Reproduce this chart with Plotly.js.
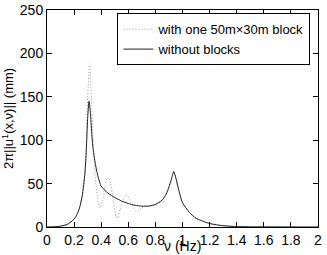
<!DOCTYPE html>
<html><head><meta charset="utf-8">
<script src="https://cdn.plot.ly/plotly-3.0.1.min.js"></script>
<style>html,body{margin:0;padding:0;background:#fff}</style>
</head><body><div id="c" style="width:327px;height:255px"></div>
<script>
const freqSolid = [0, 0.05, 0.1, 0.15, 0.2, 0.22, 0.24, 0.26, 0.28, 0.29, 0.30, 0.31, 0.32, 0.33, 0.34, 0.36, 0.38, 0.4, 0.45, 0.5, 0.55, 0.6, 0.65, 0.7, 0.75, 0.8, 0.85, 0.88, 0.9, 0.92, 0.935, 0.95, 0.97, 1.0, 1.05, 1.1, 1.2, 1.3, 1.4, 1.5, 2.0];
const ampSolid = [0, 0.3, 1, 3, 9, 14, 22, 36, 62, 88, 125, 145, 132, 108, 90, 70, 56, 47, 39, 34, 30, 27, 25, 24, 24, 26, 31, 38, 46, 56, 64, 57, 44, 28, 17, 10, 4, 1.5, 0.5, 0.2, 0];
const freqBlock = [0, 0.05, 0.1, 0.15, 0.2, 0.22, 0.24, 0.26, 0.28, 0.29, 0.30, 0.315, 0.325, 0.34, 0.36, 0.38, 0.39, 0.41, 0.43, 0.45, 0.47, 0.49, 0.51, 0.52, 0.54, 0.57, 0.59, 0.62, 0.65, 0.67, 0.7, 0.73, 0.76, 0.8, 0.85, 0.88, 0.9, 0.92, 0.935, 0.95, 0.97, 1.0, 1.05, 1.1, 1.2, 1.3, 1.4, 1.5, 2.0];
const ampBlock = [0, 0.3, 1, 3, 9, 14, 22, 36, 62, 95, 150, 188, 160, 100, 50, 28, 22, 30, 48, 58, 50, 30, 12, 10, 20, 35, 37, 28, 19, 18, 22, 25, 25, 26, 31, 38, 46, 56, 64, 57, 44, 28, 17, 10, 4, 1.5, 0.5, 0.2, 0];
const names = ["with one 50m\u00d730m block", "without blocks"];
const xTicks = [0, 0.2, 0.4, 0.6, 0.8, 1, 1.2, 1.4, 1.6, 1.8, 2];
const xTickText = ['0', '0.2', '0.4', '0.6', '0.8', '1', '1.2', '1.4', '1.6', '1.8', '2'];
const xTitle = '\u03bd (Hz)';
const yTitle = '2\u03c0||u<sup>1</sup>(x,\u03bd)|| (mm)';

const traces = [
  {x: freqBlock, y: ampBlock, name: names[0], mode: 'lines', line: {color: '#9a9a9a', width: 1, dash: '1px,2px', shape: 'spline', smoothing: 0.6}},
  {x: freqSolid, y: ampSolid, name: names[1], mode: 'lines', line: {color: '#222', width: 1, shape: 'spline', smoothing: 0.6}}
];
const ax = {showline: true, linecolor: '#000', linewidth: 1, mirror: 'ticks', ticks: 'inside', ticklen: 5, tickcolor: '#000', showgrid: false, zeroline: false, tickfont: {size: 14}};
const layout = {
  width: 327, height: 255,
  margin: {l: 47, r: 9, t: 10, b: 28},
  font: {family: 'Liberation Sans, Arial, sans-serif', size: 13, color: '#000'},
  paper_bgcolor: '#fff', plot_bgcolor: '#fff',
  showlegend: true,
  legend: {x: 0.26, y: 0.985, xanchor: 'left', yanchor: 'top', bordercolor: '#000', borderwidth: 1, bgcolor: '#fff', font: {size: 13}, tracegroupgap: 0, itemwidth: 30},
  xaxis: Object.assign({}, ax, {range: [0, 2], tickvals: xTicks, ticktext: xTickText}),
  yaxis: Object.assign({}, ax, {range: [0, 250], dtick: 50, title: {text: yTitle, standoff: 3, font: {size: 13}}}),
  annotations: [{text: xTitle, xref: 'paper', yref: 'paper', x: 0.5, y: -0.13, xanchor: 'center', yanchor: 'bottom', showarrow: false, font: {size: 14}, borderpad: 0}]
};
Plotly.newPlot('c', traces, layout, {displayModeBar: false, staticPlot: true});
</script></body></html>
